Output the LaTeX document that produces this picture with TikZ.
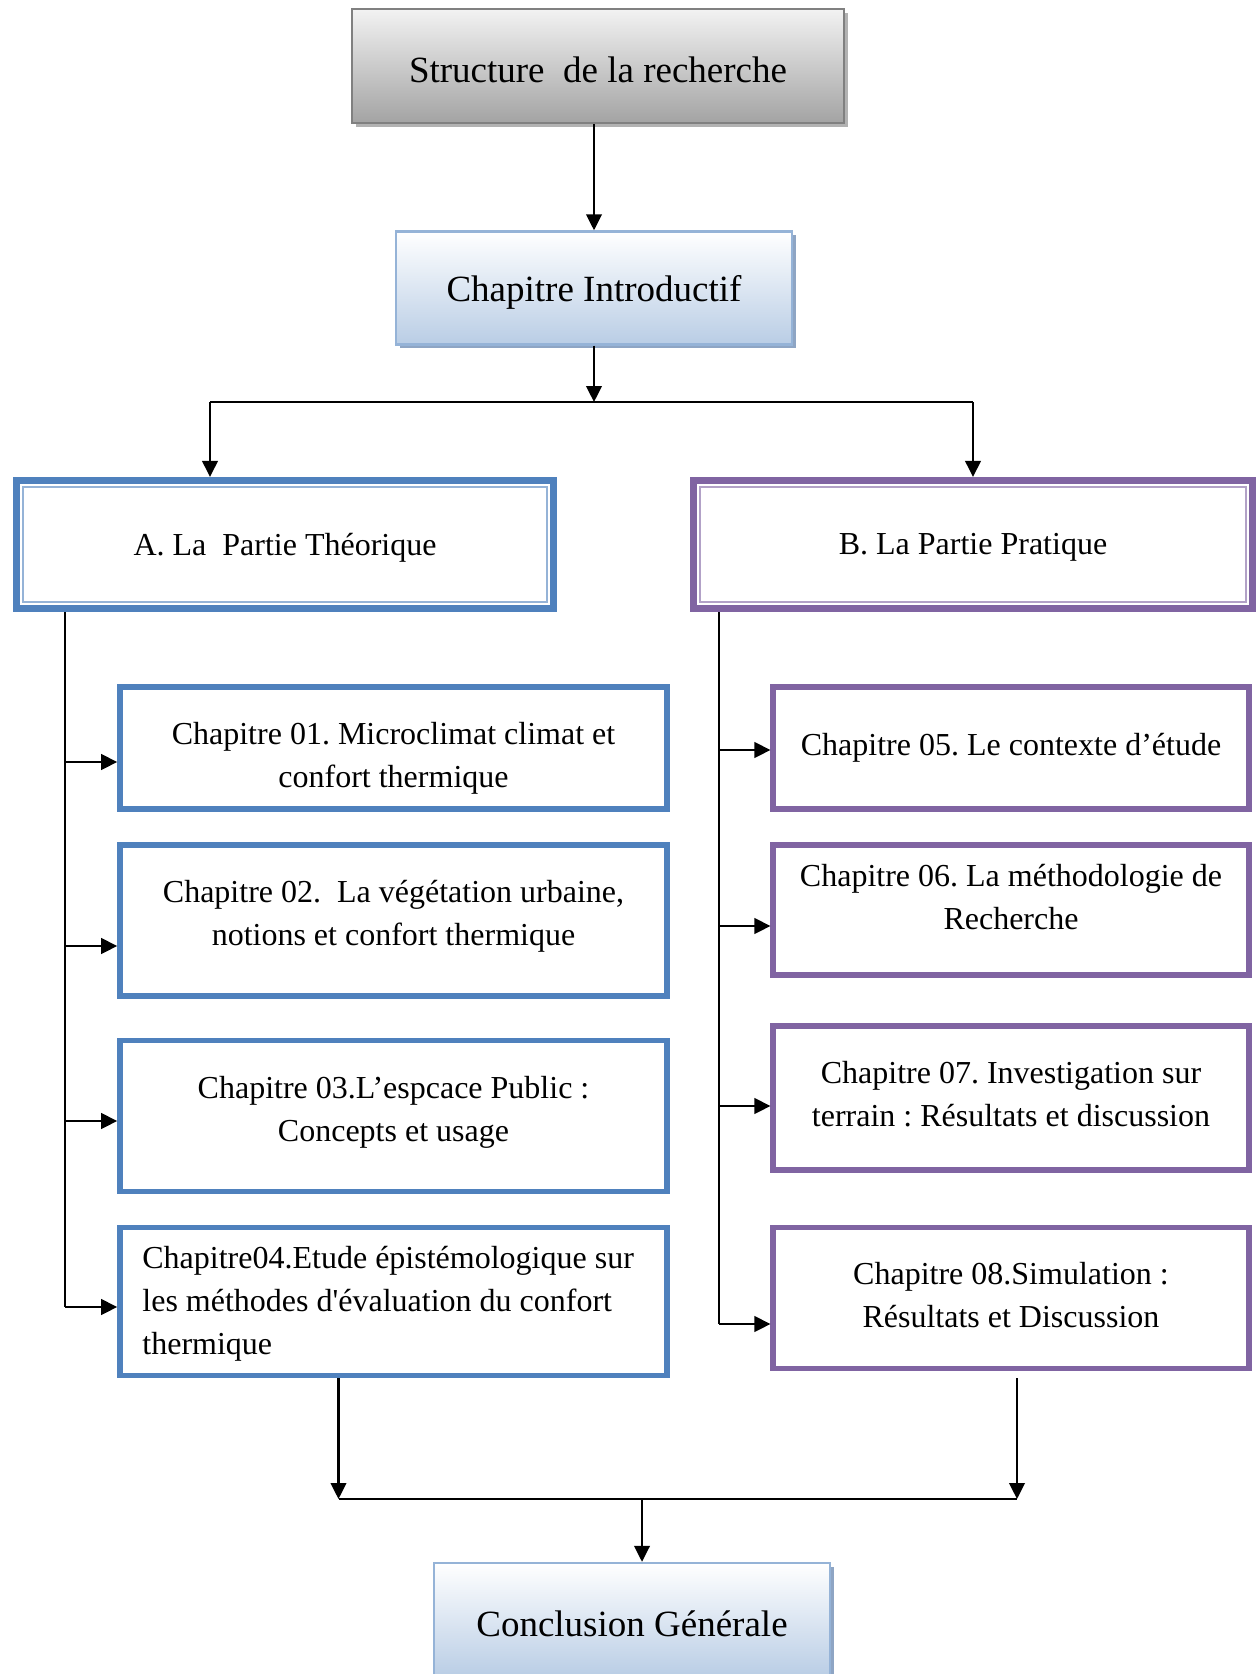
\documentclass[tikz,border=0pt]{standalone}
\usepackage{fontspec}
\setmainfont{Liberation Serif}
\usetikzlibrary{arrows.meta,calc,shadows}
\definecolor{accblue}{HTML}{4F81BD}
\definecolor{accpurple}{HTML}{8064A2}
\definecolor{ltblue}{HTML}{95B3D7}
\definecolor{ltpurple}{HTML}{B2A1C7}
\definecolor{gradblue}{HTML}{B9CDE5}
\definecolor{shblue}{HTML}{8EA5C4}
\frenchspacing
\begin{document}
\begin{tikzpicture}[x=0.5pt,y=-0.5pt,
  arr/.style={draw=black,line width=1.1pt,-{Triangle[length=8pt,width=7.8pt]}},
  ln/.style={draw=black,line width=1.1pt},
  txt/.style={inner sep=0pt,align=center,font=\fontsize{16pt}{21.5pt}\selectfont},
  bigtxt/.style={inner sep=0pt,align=center,font=\fontsize{18.5pt}{22pt}\selectfont},
  graybox/.style={draw=black!50,line width=1.3pt,top color=black!5,bottom color=black!36,
     drop shadow={shadow xshift=2pt,shadow yshift=-2pt,fill=black!30,opacity=1}},
  bluegrad/.style={draw=ltblue,line width=1.2pt,top color=white,bottom color=gradblue,
     drop shadow={shadow xshift=2pt,shadow yshift=-2pt,fill=shblue,opacity=1}},
  partbox/.style={line width=3.6pt,inner sep=0pt},
  chapbox/.style={line width=2.8pt,inner sep=0pt,fill=white}]
\useasboundingbox (0,0) rectangle (1258,1674);
\clip (0,0) rectangle (1258,1674);
% top boxes
\node[graybox,minimum width=246pt,minimum height=57pt] (top) at (598,66) {};
\node[bigtxt] (toptxt) at (598,70) {Structure\ \ de la recherche};
\node[bluegrad,minimum width=198pt,minimum height=56.5pt] (intro) at (594,288) {};
\node[bigtxt] (introtxt) at (594,292) {Chapitre Introductif};
% parts
\node[partbox,draw=accblue,minimum width=268.5pt,minimum height=64pt] (A) at (285,544.5) {};
\draw[ltblue,line width=0.8pt] ([xshift=5pt,yshift=-5pt]A.north west) rectangle ([xshift=-5pt,yshift=5pt]A.south east);
\node[txt] (Atxt) at (285,547.5) {A. La\ \ Partie Théorique};
\node[partbox,draw=accpurple,minimum width=279.5pt,minimum height=64pt] (B) at (973,544.5) {};
\draw[ltpurple,line width=0.8pt] ([xshift=5pt,yshift=-5pt]B.north west) rectangle ([xshift=-5pt,yshift=5pt]B.south east);
\node[txt] (Btxt) at (973,547.5) {B. La Partie Pratique};
% left chapters
\node[chapbox,draw=accblue,minimum width=273.5pt,minimum height=61pt] (c1) at (393.5,748) {};
\node[txt] (c1t) at (393.5,758.5) {Chapitre 01. Microclimat climat et\\confort thermique};
\node[chapbox,draw=accblue,minimum width=273.5pt,minimum height=75.5pt] (c2) at (393.5,920.5) {};
\node[txt] (c2t) at (393.5,916.5) {Chapitre 02.\ \ La végétation urbaine,\\notions et confort thermique};
\node[chapbox,draw=accblue,minimum width=273.5pt,minimum height=75.5pt] (c3) at (393.5,1116) {};
\node[txt] (c3t) at (393.5,1112) {Chapitre 03.L’espcace Public :\\Concepts et usage};
\node[chapbox,draw=accblue,minimum width=273.5pt,minimum height=74pt] (c4) at (393.5,1301.5) {};
\node[txt,align=left,anchor=west] (c4t) at (142,1303.5) {Chapitre04.Etude épistémologique sur\\les méthodes d\textquotesingle évaluation du confort\\thermique};
% right chapters
\node[chapbox,draw=accpurple,minimum width=237.75pt,minimum height=61pt] (c5) at (1011,748) {};
\node[txt] (c5t) at (1011,747.5) {Chapitre 05. Le contexte d’étude};
\node[chapbox,draw=accpurple,minimum width=237.75pt,minimum height=65.25pt] (c6) at (1011,910) {};
\node[txt] (c6t) at (1011,897) {Chapitre 06. La méthodologie de\\Recherche};
\node[chapbox,draw=accpurple,minimum width=237.75pt,minimum height=72.25pt] (c7) at (1011,1098) {};
\node[txt] (c7t) at (1011,1094) {Chapitre 07. Investigation sur\\terrain : Résultats et discussion};
\node[chapbox,draw=accpurple,minimum width=237.75pt,minimum height=70.5pt] (c8) at (1011,1298) {};
\node[txt] (c8t) at (1011,1295.5) {Chapitre 08.Simulation :\\Résultats et Discussion};
% conclusion
\node[bluegrad,minimum width=198pt,minimum height=57pt] (concl) at (632,1620) {};
\node[bigtxt] (concltxt) at (632,1624) {Conclusion Générale};
% connectors top
\draw[arr] (top.south -| intro.north) -- (intro.north);
\coordinate (j1) at (594,402);
\coordinate (jA) at (210,402);
\coordinate (jB) at (973,402);
\draw[arr] (intro.south) -- (j1);
\draw[ln] (jA) -- (jB);
\draw[arr] (jA) -- (jA |- A.north);
\draw[arr] (jB) -- (B.north);
% left trunk
\coordinate (tA) at (65,612);
\coordinate (l1) at (65,762);
\coordinate (l2) at (65,946);
\coordinate (l3) at (65,1121);
\coordinate (l4) at (65,1307);
\draw[ln] (tA) -- (l4);
\draw[arr] (l1) -- (l1 -| c1.west);
\draw[arr] (l2) -- (l2 -| c2.west);
\draw[arr] (l3) -- (l3 -| c3.west);
\draw[arr] (l4) -- (l4 -| c4.west);
% right trunk
\coordinate (tB) at (719,612);
\coordinate (r1) at (719,750);
\coordinate (r2) at (719,926);
\coordinate (r3) at (719,1106);
\coordinate (r4) at (719,1324);
\draw[ln] (tB) -- (r4);
\draw[arr] (r1) -- (r1 -| c5.west);
\draw[arr] (r2) -- (r2 -| c6.west);
\draw[arr] (r3) -- (r3 -| c7.west);
\draw[arr] (r4) -- (r4 -| c8.west);
% bottom
\coordinate (bL) at (338.5,1499);
\coordinate (bR) at (1017,1499);
\coordinate (bM) at (642,1499);
\draw[arr] (bL |- c4.south) -- (bL);
\draw[arr] (1017,1378) -- (bR);
\draw[ln] (bL) -- (bR);
\draw[arr] (bM) -- (bM |- concl.north);
\end{tikzpicture}
\end{document}
